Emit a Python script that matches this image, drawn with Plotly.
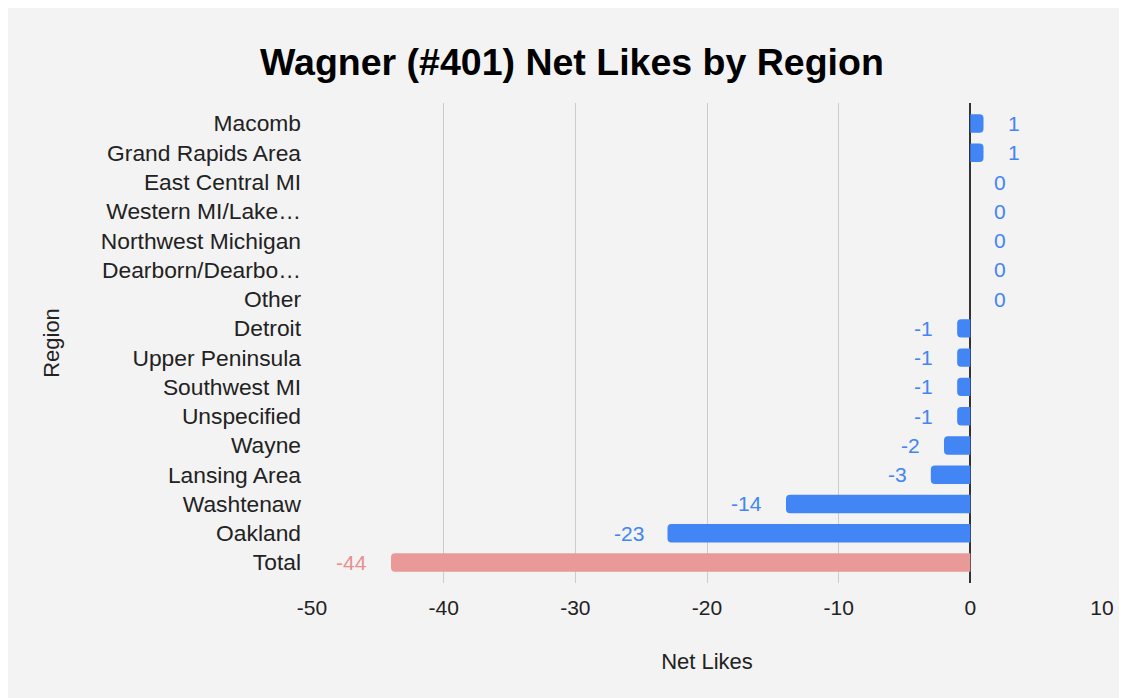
import plotly.graph_objects as go

categories = ["Macomb", "Grand Rapids Area", "East Central MI", "Western MI/Lake…",
              "Northwest Michigan", "Dearborn/Dearbo…", "Other", "Detroit",
              "Upper Peninsula", "Southwest MI", "Unspecified", "Wayne",
              "Lansing Area", "Washtenaw", "Oakland", "Total"]
net_likes = [1, 1, 0, 0, 0, 0, 0, -1, -1, -1, -1, -2, -3, -14, -23, -44]
x_ticks = [-50, -40, -30, -20, -10, 0, 10]

BLUE = "#4285f4"
SALMON = "#ea9999"
SALMON_TEXT = "#e88f8f"
FONT = "Liberation Sans, Arial, sans-serif"

colors = [SALMON if c == "Total" else BLUE for c in categories]
text_colors = [SALMON_TEXT if c == "Total" else BLUE for c in categories]

fig = go.Figure()
fig.add_trace(go.Bar(
    x=net_likes, y=categories, orientation="h",
    marker=dict(color=colors, line=dict(width=0)),
    width=0.63,
    hoverinfo="x+y",
))

annotations = []
for c, v, tc in zip(categories, net_likes, text_colors):
    annotations.append(dict(
        x=v, y=c, xref="x", yref="y", text=str(v), showarrow=False,
        xanchor="left" if v >= 0 else "right",
        xshift=22 if v >= 0 else -22,
        font=dict(family=FONT, size=21, color=tc),
    ))

H = 690
fig.update_layout(
    width=1119, height=H,
    autosize=False,
    paper_bgcolor="#f3f3f3", plot_bgcolor="#f3f3f3",
    margin=dict(l=304, r=25, t=95, b=115),
    barcornerradius=4,
    showlegend=False,
    title=dict(text="<b>Wagner (#401) Net Likes by Region</b>",
               x=0.504, xanchor="center", xref="container",
               y=1 - 54 / H, yanchor="middle", yref="container",
               font=dict(family=FONT, size=37.5, color="#000000")),
    font=dict(family=FONT, color="#222222"),
    annotations=annotations,
)

fig.update_xaxes(
    range=[-50, 10], tickvals=x_ticks, ticktext=[str(t) for t in x_ticks],
    showgrid=True, gridcolor="#cccccc", gridwidth=1.3,
    zeroline=True, zerolinecolor="#333333", zerolinewidth=1.6,
    showline=False, ticks="",
    tickfont=dict(family=FONT, size=21, color="#222222"),
    ticklabelstandoff=10,
    title=dict(text="Net Likes", font=dict(family=FONT, size=22, color="#222222"), standoff=35),
)
fig.update_yaxes(
    categoryorder="array", categoryarray=categories,
    range=[15.7, -0.7],
    showgrid=False, zeroline=False, showline=False, ticks="",
    tickfont=dict(family=FONT, size=22.8, color="#222222"),
    ticklabelstandoff=10,
    title=dict(text="Region", font=dict(family=FONT, size=22, color="#222222"), standoff=35),
)

fig.write_html("out.html")
